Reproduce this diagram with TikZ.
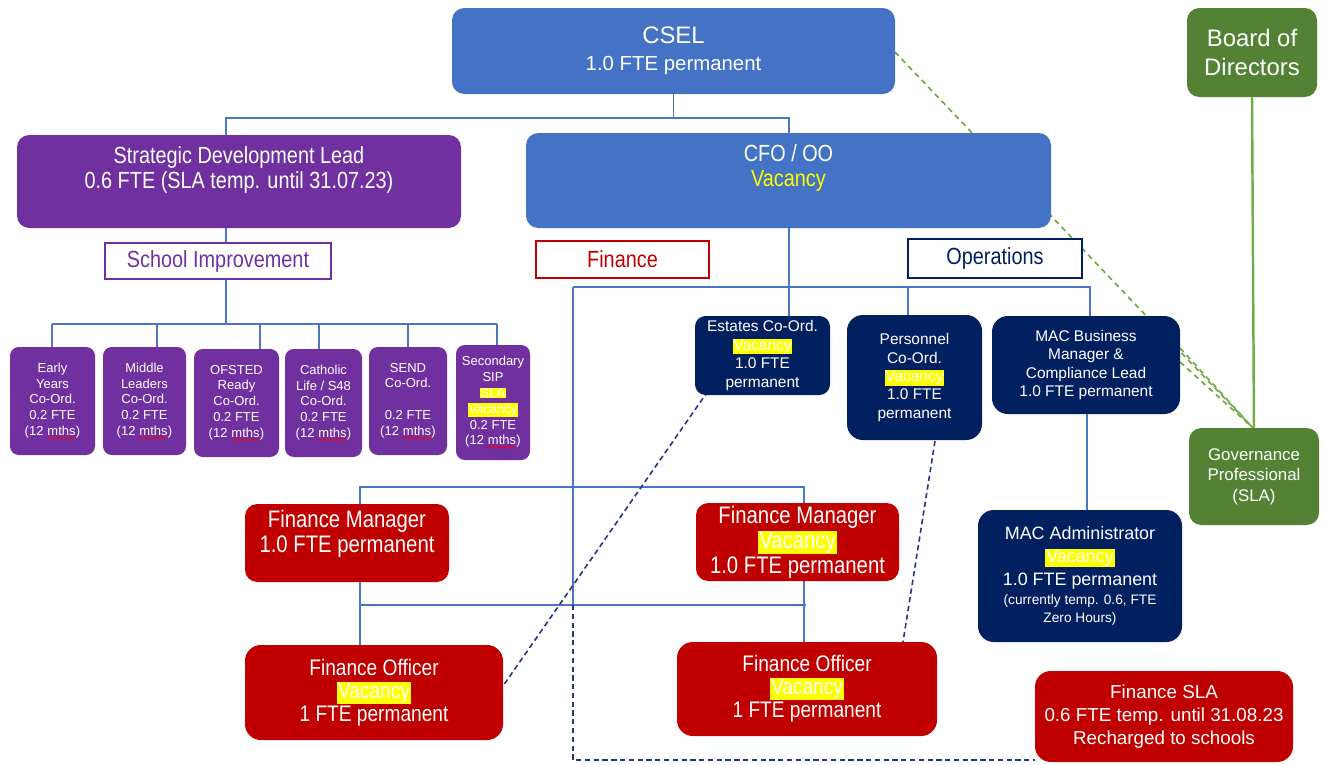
\documentclass[tikz,border=0pt]{standalone}
\usepackage{fontspec}
\setmainfont{Liberation Sans}
\newfontfamily\nar[FakeStretch=0.85]{Liberation Sans}
\usetikzlibrary{backgrounds,decorations.pathmorphing}
\definecolor{cblue}{HTML}{4472C4}
\definecolor{cpurp}{HTML}{7030A0}
\definecolor{cnavy}{HTML}{002060}
\definecolor{cred}{HTML}{C00000}
\definecolor{cgreen}{HTML}{548235}
\definecolor{lgreen}{HTML}{70AD47}
\definecolor{lineblue}{HTML}{4A76C6}
\definecolor{dashnavy}{HTML}{26338A}
\definecolor{hly}{HTML}{FFFF00}
\newcommand\fs[2]{\fontsize{#1}{#2}\selectfont}
\newcommand\hl[1]{{\setlength\fboxsep{0.5pt}\colorbox{hly}{#1}}}
\newcommand\wv[1]{\tikz[baseline=(w.base),x=1pt,y=1pt,sharp corners]{\node[inner sep=0pt,outer sep=0pt,minimum width=0pt,minimum height=0pt,fill=none,draw=none,sharp corners,text=white,font=\fs{7.4}{9}] (w) {#1};\draw[red,line width=0.4pt,sharp corners,decorate,decoration={snake,amplitude=0.5pt,segment length=2pt}] ([yshift=-1.3pt]w.south west) -- ([yshift=-1.3pt]w.south east);}}
\tikzset{
  sz/.style 2 args={minimum width=#1*0.02cm, minimum height=#2*0.02cm},
  box/.style={rounded corners=7pt, inner sep=0pt, align=center, text=white},
  sbox/.style={box, fill=cpurp, rounded corners=5pt, font=\fs{7.4}{9}},
  obox/.style={box, fill=cnavy, rounded corners=6pt, font=\fs{8.8}{10.5}},
  rbox/.style={box, fill=cred},
  gbox/.style={box, fill=cgreen},
  lab/.style={fill=white, inner sep=0pt, line width=1pt, align=center, font=\nar\fs{13.3}{14}},
  txt/.style={inner sep=0pt, align=center, text=white},
  conn/.style={draw=lineblue, line width=0.7pt},
  dn/.style={draw=dashnavy, line width=0.9pt, dash pattern=on 3pt off 2pt},
  gd/.style={draw=lgreen, line width=1pt, dash pattern=on 3pt off 2.5pt},
}
\begin{document}
\begin{tikzpicture}[x=0.02cm,y=-0.02cm]
% top level
\node[box,fill=cblue,sz={443}{86},font=\fs{11.6}{15.3}] (csel) at (673.5,51) {{\fs{13.6}{15.3}CSEL}\\1.0 FTE permanent};
\node[gbox,sz={130}{89},font=\fs{13.6}{17}] (board) at (1252,52.5) {Board of\\Directors};
\node[box,fill=cpurp,sz={444}{93}] (sdl) at (239,181.5) {};
\node[txt,font=\nar\fs{13.3}{13.9}] (sdlt) at (239,170) {Strategic Development Lead\\0.6 FTE (SLA temp. until 31.07.23)};
\node[box,fill=cblue,sz={525}{95}] (cfo) at (788.5,180.5) {};
\node[txt,font=\nar\fs{13.3}{14.2}] (cfot) at (788.5,167.5) {CFO / OO\\{\color{hly}Vacancy}};
% labels
\node[lab,draw=cpurp,text=cpurp,sz={226}{36}] (si) at (218,261) {School Improvement};
\node[lab,draw=cred,text=cred,sz={173}{37}] (fin) at (622.5,259.5) {Finance};
\node[lab,draw=cnavy,text=cnavy,sz={174}{39}] (ops) at (995,258.5) {Operations};
% school improvement boxes
\node[sbox,sz={85}{108}] (ey) at (52.5,401) {Early\\Years\\Co-Ord.\\0.2 FTE\\(12 \wv{mths})};
\node[sbox,sz={83}{108}] (ml) at (144.5,401) {Middle\\Leaders\\Co-Ord.\\0.2 FTE\\(12 \wv{mths})};
\node[sbox,sz={85}{108}] (of) at (236.5,403) {OFSTED\\Ready\\Co-Ord.\\0.2 FTE\\(12 \wv{mths})};
\node[sbox,sz={77}{108}] (cl) at (323.5,403) {Catholic\\Life / S48\\Co-Ord.\\0.2 FTE\\(12 \wv{mths})};
\node[sbox,sz={78}{108}] (send) at (408,401) {SEND\\Co-Ord.\\[9pt]0.2 FTE\\(12 \wv{mths})};
\node[sbox,sz={74}{115}] (ssip) at (493,402.5) {Secondary\\SIP\\\hl{SLA}\\\hl{Vacancy}\\0.2 FTE\\(12 \wv{mths})};
% operations
\node[obox,sz={135}{79}] (est) at (762.5,355.5) {Estates Co-Ord.\\\hl{Vacancy}\\1.0 FTE\\permanent};
\node[obox,sz={135}{125},rounded corners=9pt] (per) at (914.5,377.5) {Personnel\\Co-Ord.\\\hl{Vacancy}\\1.0 FTE\\permanent};
\node[obox,sz={188}{98},rounded corners=9pt] (mbm) at (1086,365) {MAC Business\\Manager \&\\Compliance Lead\\1.0 FTE permanent};
\node[obox,sz={204}{132},rounded corners=9pt,font=\fs{10.2}{13}] (mad) at (1080,576) {MAC Administrator\\\hl{Vacancy}\\1.0 FTE permanent\\[-2pt]{\fs{7.8}{9}(currently temp. 0.6, FTE}\\[-3pt]{\fs{7.8}{9}Zero Hours)}};
\node[gbox,sz={130}{97},font=\fs{9.6}{11.6}] (gov) at (1254,476.5) {Governance\\Professional\\(SLA)};
% finance
\node[rbox,sz={204}{78}] (fml) at (347,543) {};
\node[txt,font=\nar\fs{13.6}{14.2}] (fmlt) at (347,533.5) {Finance Manager\\1.0 FTE permanent};
\node[rbox,sz={203}{78},font=\nar\fs{13.6}{14.2}] (fmr) at (797.5,542) {Finance Manager\\\hl{Vacancy}\\1.0 FTE permanent};
\node[rbox,sz={258}{95},rounded corners=9pt,font=\nar\fs{12.8}{13}] (fol) at (374,692.5) {Finance Officer\\\hl{Vacancy}\\1 FTE permanent};
\node[rbox,sz={260}{94},rounded corners=9pt,font=\nar\fs{12.8}{13}] (for) at (807,689) {Finance Officer\\\hl{Vacancy}\\1 FTE permanent};
\node[rbox,sz={258}{91},rounded corners=9pt,font=\fs{10.7}{13.3}] (fsla) at (1164,716.5) {Finance SLA\\0.6 FTE temp. until 31.08.23\\Recharged to schools};

\begin{scope}[on background layer]
\path[fill=white,use as bounding box] (0,0) rectangle (1325,764);
% coordinates
\coordinate (ja) at (226,118);
\coordinate (jb) at (789,118);
\coordinate (jc) at (226,324);
\coordinate (h1) at (52,324);
\coordinate (h2) at (157,324);
\coordinate (h3) at (260,324);
\coordinate (h4) at (319,324);
\coordinate (h5) at (408,324);
\coordinate (h6) at (497,324);
\coordinate (fa) at (573,287);
\coordinate (fb) at (1090,287);
\coordinate (pa) at (908,287);
\coordinate (fc) at (573,605);
\coordinate (fd) at (573,760);
\coordinate (ma) at (360,487);
\coordinate (mb) at (804,487);
\coordinate (oa) at (360,605);
\coordinate (ob) at (806,605);
\coordinate (e1) at (708,391);
\coordinate (e2) at (503,686);
\coordinate (p1) at (935,441);
\coordinate (p2) at (903,642);
\coordinate (g0) at (895,52);
\coordinate (g1) at (1180,348);
\coordinate (g2) at (1180,362);
\coordinate (gt) at (1253,428);
\coordinate (mx) at (1087,414);
% green
\draw[gd] (g0) -- (gt);
\draw[gd] (g1) -- (gt);
\draw[gd] (g2) -- (gt);
\draw[lgreen,line width=1.4pt] (board.south) -- (gov.north);
% top tree
\draw[conn] (csel.south) -- (csel.south |- ja);
\draw[conn] (ja |- sdl.north) -- (ja) -- (jb) -- (jb |- cfo.north);
\draw[conn] (ja |- sdl.south) -- (ja |- si.north);
\draw[conn] (ja |- si.south) -- (jc);
\draw[conn] (h1) -- (h6);
\draw[conn] (h1) -- (h1 |- ey.north);
\draw[conn] (h2) -- (h2 |- ml.north);
\draw[conn] (h3) -- (h3 |- of.north);
\draw[conn] (h4) -- (h4 |- cl.north);
\draw[conn] (h5) -- (h5 |- send.north);
\draw[conn] (h6) -- (h6 |- ssip.north);
% operations tree
\draw[conn] (jb |- cfo.south) -- (jb |- est.north);
\draw[conn] (fa) -- (fb) -- (fb |- mbm.north);
\draw[conn] (pa) -- (pa |- per.north);
\draw[conn] (mx |- mbm.south) -- (mx |- mad.north);
% finance tree
\draw[conn] (fa) -- (fc);
\draw[conn] (ma |- fml.north) -- (ma) -- (mb) -- (mb |- fmr.north);
\draw[conn] (ma |- fml.south) -- (ma |- fol.north);
\draw[conn] (mb |- fmr.south) -- (mb |- for.north);
\draw[conn] (oa) -- (ob);
% dashed navy
\draw[dn] (fc) -- (fd) -- (fd -| fsla.west);
\draw[dn] (e1) -- (e2);
\draw[dn] (p1) -- (p2);
\end{scope}
\end{tikzpicture}
\end{document}
